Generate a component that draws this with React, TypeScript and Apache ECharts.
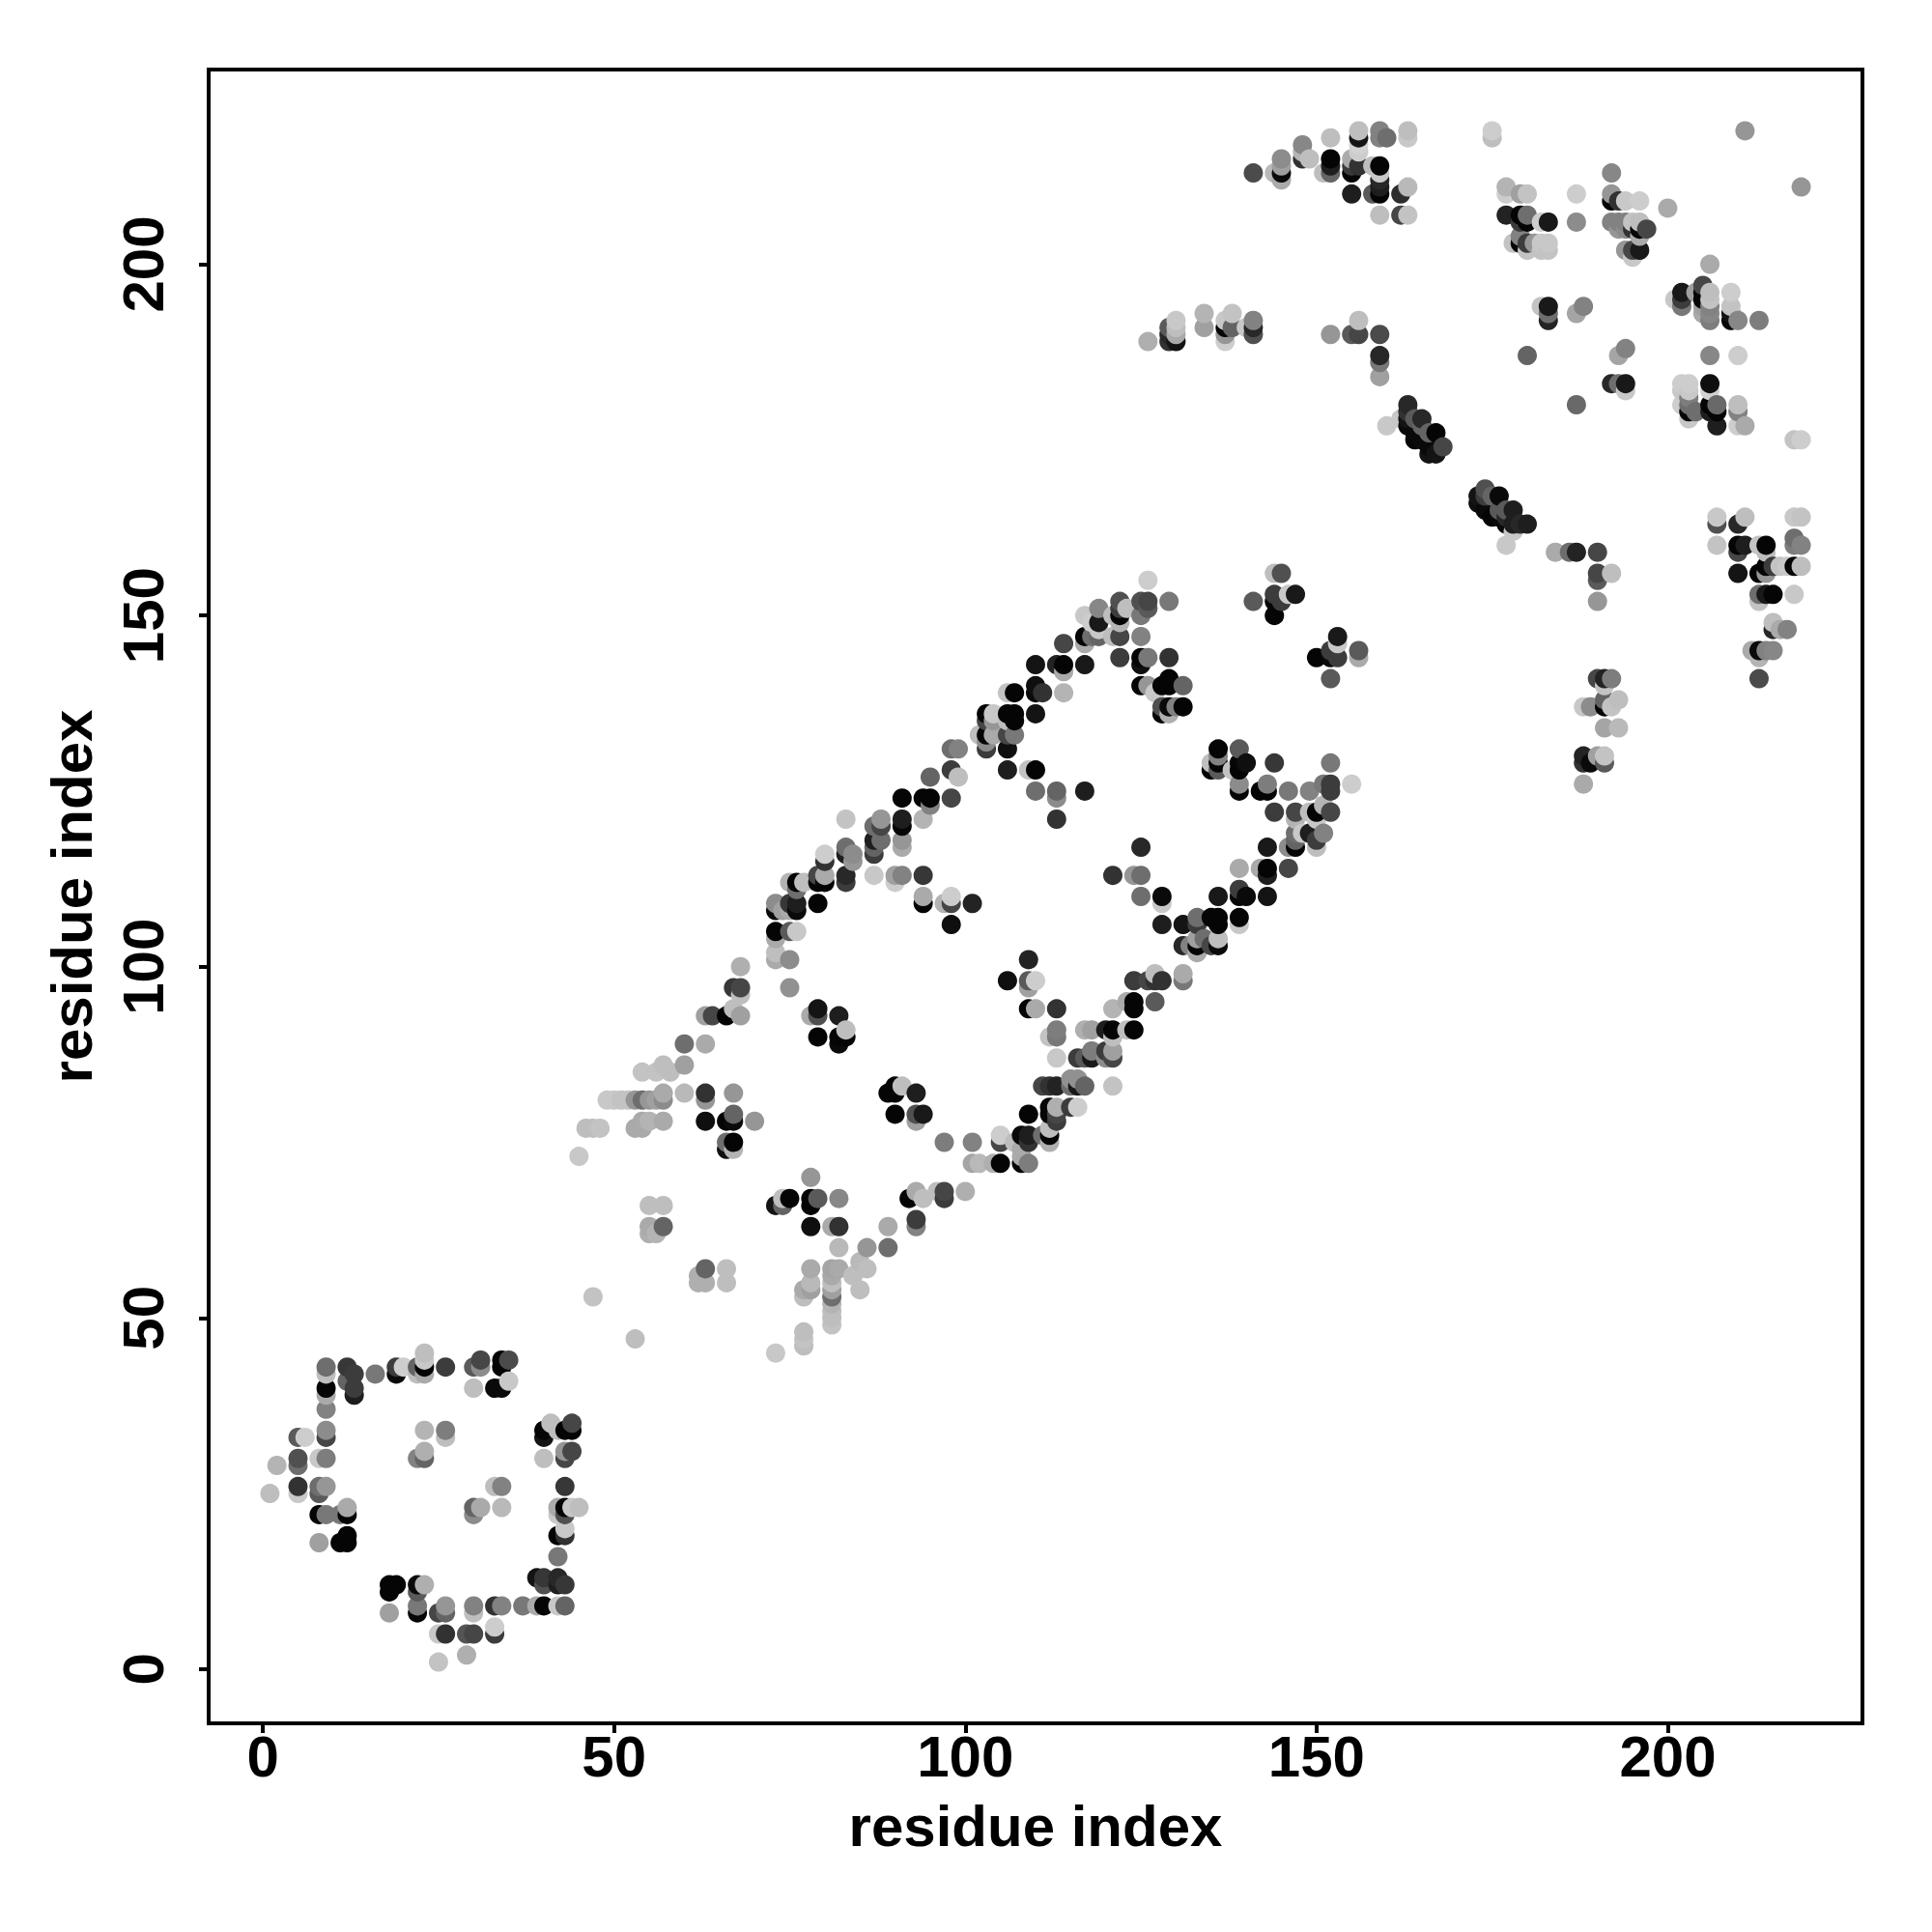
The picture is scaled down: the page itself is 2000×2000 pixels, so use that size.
import React, { useEffect, useRef } from "react";
import * as echarts from "echarts";

type P = [number, number, number];

const xTicks = [0, 50, 100, 150, 200];
const yTicks = [0, 50, 100, 150, 200];
const axisTitle = "residue index";

// [residue x, residue y, grey level]
const lowerLoop: P[] = [
  [9,43,110],[9,42,190],[9,40,5],[9,39,170],[9,37,130],[12,43,55],[12,41,100],[13,42,60],[13,40,60],[13,39,30],[16,42,120],
  [19,42,10],[19,43,60],[20,43,205],[22,43,100],[22,42,190],[23,45,190],[23,44,200],[23,43,5],[23,42,170],[26,43,60],
  [30,43,90],[31,43,140],[31,44,70],[34,44,5],[34,43,5],[35,44,75],[33,40,10],[34,40,10],[35,41,200],[30,40,190],
  [5,33,90],[6,33,205],[9,34,140],[9,33,70],[5,30,80],[5,29,110],[8,30,200],[9,30,125],[2,29,180],
  [5,26,50],[5,25,200],[8,26,110],[8,25,90],[9,26,150],[1,25,190],[8,22,5],[9,22,120],[11,22,120],[12,22,5],[12,23,170],
  [8,18,160],[11,18,5],[12,19,5],[12,18,5],[23,34,180],[26,34,125],[26,33,190],[22,30,130],[23,30,100],[23,31,175],
  [33,26,190],[34,26,130],[30,23,100],[30,22,140],[31,23,170],[34,23,185],
  [40,34,5],[40,33,20],[41,35,190],[42,34,190],[43,34,5],[44,34,5],[44,35,70],[40,30,190],[43,31,150],[43,30,70],[44,31,70],
  [43,26,55],[42,23,170],[42,22,200],[43,23,5],[43,22,80],[44,23,200],[45,23,190],[42,19,5],[43,19,50],[43,20,200],[42,16,120],
  [39,13,20],[40,13,55],[40,12,80],[42,13,40],[42,12,30],[43,12,55],[37,9,120],[39,9,170],[40,9,5],[42,9,200],[43,9,100],
  [33,9,50],[34,9,130],[30,9,130],[30,8,190],[26,9,150],[26,8,100],[25,8,70],[22,11,90],[22,12,10],[23,12,175],[22,9,120],[22,8,5],
  [18,12,5],[19,12,5],[18,11,5],[18,8,160],[25,5,200],[26,5,50],[29,5,85],[30,5,70],[33,5,60],[33,6,205],[25,1,195],[29,2,175],
];

const middleBand: P[] = [
  [83,121,195],[91,120,5],[94,121,180],[113,121,50],[87,120,110],[88,121,150],[88,120,70],[87,118,30],[88,118,110],[87,116,60],[87,117,100],
  [91,118,150],[91,117,170],[83,117,110],[83,116,30],[84,116,140],[84,115,150],[80,116,205],[80,115,50],[83,113,40],[83,112,60],
  [79,113,70],[79,112,5],[80,113,170],[80,112,5],[75,112,180],[76,112,5],[77,112,190],[76,111,110],[87,113,200],[90,112,205],[90,113,160],[91,113,130],[94,113,55],
  [94,110,170],[94,109,5],[97,109,180],[98,109,70],[98,110,205],[101,109,35],[98,106,15],[79,109,5],[73,109,140],[73,108,10],[74,108,160],
  [75,109,55],[76,109,30],[76,108,10],[75,108,170],[73,105,5],[73,104,170],[73,102,190],[73,101,170],[75,105,90],[76,105,200],[75,101,140],[75,97,145],
  [68,100,175],[67,97,55],[68,97,70],[68,96,190],[63,93,160],[64,93,70],[67,94,190],[66,93,5],[68,93,160],[60,89,110],[63,89,170],
  [60,86,160],[57,86,190],[58,85,190],[56,85,195],[54,85,195],[60,82,185],[57,82,170],[57,81,140],[56,81,160],[55,81,150],[54,81,110],[53,81,150],[52,81,195],[51,81,195],[50,81,200],[49,81,200],
  [63,82,50],[63,81,150],[67,82,150],[57,78,170],[55,78,180],[54,78,170],[54,77,170],[53,77,170],[48,77,195],[47,77,190],[46,77,190],[45,73,200],
  [63,78,15],[66,78,5],[67,78,10],[67,79,100],[70,78,150],[66,75,110],[66,74,15],[67,75,5],[67,74,180],
  [79,94,20],[79,93,80],[78,93,170],[82,93,30],[79,90,5],[82,90,5],[82,89,10],[83,90,5],[83,91,190],
  [90,83,5],[89,82,5],[90,82,5],[91,83,190],[93,82,30],[90,79,5],[93,79,80],[93,78,160],[94,79,25],[97,75,125],
  [93,68,170],[92,67,5],[94,67,190],[96,68,190],[97,68,70],[97,67,60],[100,68,175],[93,64,60],[93,63,130],[89,63,170],[89,60,110],[86,60,150],[82,60,185],
  [78,70,150],[74,67,190],[75,67,5],[73,66,20],[74,66,100],[78,67,5],[79,67,90],[78,66,5],[82,67,135],[78,63,15],[81,63,170],[82,63,50],
  [55,66,190],[57,66,190],[55,63,170],[57,63,100],[55,62,175],[56,62,180],[63,57,100],[62,56,175],[62,55,175],[63,55,175],[66,57,190],[66,55,190],[47,53,195],
  [78,57,170],[81,57,165],[82,57,170],[78,55,185],[77,54,170],[78,54,160],[77,53,190],[81,56,170],[81,55,190],[81,54,160],[81,53,110],[81,52,180],[81,51,190],[81,50,190],[81,49,195],
  [85,58,185],[85,57,190],[86,57,190],[84,56,190],[85,54,190],[53,47,190],[73,45,200],[77,46,190],[77,47,195],[77,48,190],
  [98,131,110],[99,131,130],[98,128,60],[99,127,190],[95,127,100],[98,124,70],[95,124,5],[94,124,5],[95,123,130],[91,124,5],[91,121,30],
];

const lowerBand: P[] = [
  [109,101,35],[106,98,15],[109,98,90],[109,97,160],[110,98,205],[109,94,5],[110,94,170],[113,94,50],[113,91,125],[113,90,120],[112,90,195],[113,87,200],
  [111,83,70],[112,83,50],[113,83,35],[112,80,5],[112,79,5],[113,80,175],[113,79,70],[109,79,5],[115,80,60],[116,80,205],
  [117,91,175],[118,91,160],[120,91,30],[121,91,5],[121,90,190],[123,91,190],[124,91,5],[121,94,180],[123,95,170],[124,95,5],[124,94,5],[127,95,90],
  [124,98,60],[127,99,190],[127,98,50],[128,98,50],[126,98,70],[131,99,170],[131,98,120],
  [116,87,60],[117,87,90],[118,88,125],[118,87,25],[120,88,60],[120,87,140],[121,88,160],[121,87,70],
  [121,83,195],[115,84,145],[116,84,145],[115,83,110],[116,83,25],[117,83,100],[113,78,60],
  [112,77,190],[112,76,5],[112,75,175],[111,76,110],[109,76,30],[108,76,10],[109,75,50],[108,74,170],[108,73,170],[109,72,125],[108,72,5],[107,75,190],
  [105,76,205],[105,75,70],[101,75,130],[101,72,165],[102,72,185],[104,72,175],[105,72,5],
];

const upperBand: P[] = [
  [126,155,205],[129,152,120],[125,152,80],[126,152,70],[126,151,90],[125,150,120],[122,152,80],[122,151,60],[123,151,190],[122,150,5],[122,149,180],[121,150,190],
  [119,151,135],[119,149,25],[117,150,200],[118,149,205],[119,148,200],[125,147,130],[122,147,70],[121,147,190],[119,147,100],[118,147,110],[117,147,5],[117,146,170],
  [114,146,70],[122,144,60],[110,143,20],[113,143,35],[114,143,5],[117,143,25],[114,142,170],[125,144,5],[125,143,15],[126,144,120],[129,144,50],
  [110,140,15],[110,139,10],[111,139,50],[114,139,180],[107,139,5],[106,139,195],[125,140,5],[126,140,150],[128,140,5],[129,141,5],[129,140,5],[131,140,100],
  [128,137,80],[128,136,5],[129,137,10],[129,136,175],[130,137,130],[131,137,5],[127,139,200],[110,136,20],[106,136,5],[107,136,5],[107,135,5],[106,135,190],
  [103,136,5],[103,135,70],[104,136,200],[104,135,150],[102,133,190],[103,133,5],[104,133,170],[103,132,140],[103,131,60],[106,133,70],[107,133,120],[106,131,15],
  [106,128,30],[109,128,195],[110,128,5],[110,125,110],[113,125,100],[113,124,140],[117,125,30],
  [144,156,190],[145,156,80],[141,152,90],[144,153,60],[144,152,5],[145,152,60],[146,153,200],[147,153,25],[144,150,5],
  [153,147,25],[153,146,200],[152,145,60],[150,144,5],[152,144,10],[153,144,60],[156,145,90],[156,144,170],[152,141,90],
  [136,131,5],[136,130,130],[139,131,90],[144,129,55],[152,129,120],[135,129,190],[136,129,5],[135,128,5],[136,128,90],[139,129,5],[140,129,15],[139,128,5],[138,128,195],
  [139,126,140],[139,125,5],[142,125,5],[143,126,125],[143,125,5],[146,125,120],[149,125,130],[151,126,120],[152,126,60],[152,125,60],[155,126,205],
  [144,122,60],[147,122,70],[147,121,180],[149,122,190],[150,122,5],[151,123,180],[152,122,70],[150,121,200],[147,119,110],[148,119,200],[149,119,30],[150,118,60],[151,119,130],[150,117,190],
  [146,117,140],[147,117,5],[147,118,100],[143,117,25],[139,114,170],[142,114,170],[143,114,5],[143,113,30],[146,114,70],[139,111,60],[136,110,25],[139,110,5],[140,110,10],[143,110,20],
  [125,117,40],[121,113,50],[124,113,150],[125,113,110],[125,110,110],[128,110,10],[128,109,200],[128,106,30],[131,106,20],[133,107,110],[133,106,60],[135,107,5],[136,107,5],[136,106,5],[139,107,5],[139,106,200],
  [131,103,40],[132,103,130],[133,104,160],[133,103,5],[133,102,170],[134,104,110],[135,103,70],[136,104,190],[136,103,10],
];

const contactRibbon: P[] = [
  [126,189,175],[129,191,90],[129,190,40],[129,189,50],[130,192,200],[130,191,190],[130,190,170],[130,189,20],[134,193,180],[134,191,160],
  [137,192,200],[137,191,5],[137,190,150],[137,189,205],[138,193,195],[138,191,100],[140,191,200],[141,192,130],[141,191,40],[141,190,80],
  [152,190,150],[155,190,90],[156,192,190],[156,190,70],[159,190,75],[159,187,40],[159,186,120],[159,184,160],
  [160,177,200],[162,178,200],[163,180,40],[163,179,50],[163,178,20],[163,177,10],[164,178,90],[164,175,5],[165,178,40],[165,177,100],
  [166,176,100],[167,176,5],[166,173,20],[167,173,20],[168,174,70],[165,175,10],[164,176,10],[166,174,10],
  [173,167,20],[173,166,15],[174,168,80],[174,167,60],[175,167,100],[176,167,10],[175,164,5],[176,165,90],[177,165,90],[178,165,30],[177,163,10],[178,163,30],[179,163,40],[180,163,30],[178,162,200],[177,160,200],[177,164,40],[174,165,10],[176,164,10],
];

const topCluster: P[] = [
  [141,213,75],[144,213,185],[145,215,140],[145,214,160],[145,213,10],[145,212,170],[148,217,135],[148,216,180],[148,215,50],[149,215,190],
  [152,218,190],[152,215,5],[152,214,30],[152,213,100],[151,213,190],[155,215,170],[155,214,60],[155,213,5],[155,210,30],
  [156,219,190],[156,218,20],[156,216,205],[156,217,210],[156,214,50],[158,214,190],[159,219,130],[159,218,130],[160,218,110],
  [159,214,5],[159,213,200],[159,212,40],[159,211,30],[159,210,5],[158,210,90],[162,210,45],[163,211,185],[163,219,190],[163,218,200],[159,207,190],[162,207,70],[163,207,195],
];

const cornerCluster: P[] = [
  [175,219,205],[175,218,190],[211,219,150],[219,211,150],[192,213,135],[192,210,150],[192,209,5],[193,209,50],[194,209,200],[196,209,205],[200,208,170],
  [177,211,180],[177,210,205],[179,210,160],[180,210,195],[187,210,205],[177,207,35],[179,207,5],[180,207,110],[179,206,60],[180,206,5],[182,206,205],[183,206,25],[187,206,140],
  [179,204,130],[178,203,195],[179,203,5],[180,203,60],[180,202,195],[181,203,150],[182,203,200],[182,202,195],[183,203,200],[183,202,195],
  [192,206,130],[193,206,130],[193,205,150],[194,206,130],[194,205,140],[195,206,195],[196,206,190],[195,205,50],[196,205,5],[197,205,70],[196,204,170],
  [194,202,150],[195,202,70],[196,202,25],[195,201,200],[206,200,170],[202,196,25],[201,195,200],[202,195,60],[202,194,120],
  [204,196,160],[205,197,70],[205,196,5],[205,195,5],[206,196,190],[206,195,195],[205,194,160],[206,194,130],[206,193,135],[205,193,170],[206,192,125],
  [209,196,205],[209,194,195],[209,193,20],[209,192,5],[210,192,135],[213,192,125],[183,194,25],[182,194,195],[183,193,110],[183,192,35],[188,194,130],[187,193,165],
  [180,187,100],[187,180,105],[194,188,130],[193,187,165],[206,187,135],[210,187,205],[192,183,40],[193,183,110],[194,183,25],[194,182,200],
  [202,183,205],[203,183,205],[202,182,200],[203,182,200],[203,181,125],[202,180,205],[203,180,110],[203,179,5],[204,179,110],[203,178,200],
  [206,183,15],[206,182,210],[206,180,5],[207,180,105],[206,179,30],[207,179,5],[207,177,30],[210,180,190],[210,179,130],[210,177,205],[211,177,170],[218,175,195],[219,175,205],
];

const rightCluster: P[] = [
  [184,159,170],[186,159,110],[187,159,35],[190,159,70],[190,156,70],[192,156,190],[190,155,90],[190,152,150],
  [190,141,70],[191,141,35],[192,141,125],[191,140,195],[191,138,100],[193,138,190],[188,137,200],[189,137,140],[191,137,5],[192,137,195],
  [191,134,165],[193,134,185],[188,130,35],[188,129,50],[189,129,10],[190,130,160],[191,130,195],[191,129,90],[188,126,170],
  [207,164,200],[207,163,80],[210,163,40],[211,164,190],[218,164,200],[219,164,195],[218,161,110],[218,160,125],[219,160,130],
  [207,160,195],[210,160,5],[210,159,70],[211,160,30],[213,160,195],[214,160,5],[214,159,190],[210,156,20],[213,156,5],[214,157,5],[214,156,150],
  [215,157,60],[216,157,195],[217,157,200],[218,157,5],[219,157,190],[213,153,110],[214,153,25],[215,153,5],[213,152,195],[218,153,200],
  [215,149,190],[215,148,40],[216,148,170],[217,148,130],[212,145,170],[213,145,10],[214,145,130],[215,145,135],[213,144,180],[213,141,75],
];

const contacts: P[] = [
  ...lowerLoop, ...middleBand, ...lowerBand, ...upperBand,
  ...contactRibbon, ...topCluster, ...cornerCluster, ...rightCluster,
].sort((a, b) => a[0] - b[0] || a[1] - b[1]);

const FONT = '"Liberation Sans", Arial, sans-serif';

export default function App() {
  const ref = useRef<HTMLDivElement>(null);
  useEffect(() => {
    document.body.style.margin = "0";
    const chart = echarts.init(ref.current!, undefined, { renderer: "svg" });
    const axisBase = {
      type: "value" as const,
      min: -7.72,
      max: 227.72,
      name: axisTitle,
      nameLocation: "middle" as const,
      nameTextStyle: { fontFamily: FONT, fontWeight: "bold" as const, fontSize: 60, color: "#000" },
      axisLine: { show: false, onZero: false },
      splitLine: { show: false },
    };
    chart.setOption({
      animation: false,
      backgroundColor: "#fff",
      grid: {
        left: 216, right: 72, top: 72, bottom: 216,
        show: true, borderColor: "#000", borderWidth: 4, backgroundColor: "transparent",
      },
      xAxis: {
        ...axisBase,
        nameGap: 76,
        axisTick: { length: 10, lineStyle: { color: "#000", width: 4 }, customValues: xTicks },
        axisLabel: {
          customValues: xTicks, margin: 4, color: "#000",
          fontFamily: FONT, fontWeight: "bold", fontSize: 60,
        },
      },
      yAxis: {
        ...axisBase,
        nameGap: 112,
        axisTick: { length: 10, lineStyle: { color: "#000", width: 4 }, customValues: yTicks },
        axisLabel: {
          customValues: yTicks, rotate: 90, margin: 38, color: "#000", align: "center", verticalAlign: "bottom",
          fontFamily: FONT, fontWeight: "bold", fontSize: 60,
        },
      },
      series: [
        {
          type: "scatter",
          data: contacts,
          symbol: "circle",
          symbolSize: 20,
          silent: true,
          z: 1,
          itemStyle: {
            opacity: 1,
            color: (p: any) => {
              const g = p.data[2];
              return `rgb(${g},${g},${g})`;
            },
          },
        },
      ],
    });
    return () => chart.dispose();
  }, []);
  return <div ref={ref} style={{ width: 2000, height: 2000 }} />;
}
